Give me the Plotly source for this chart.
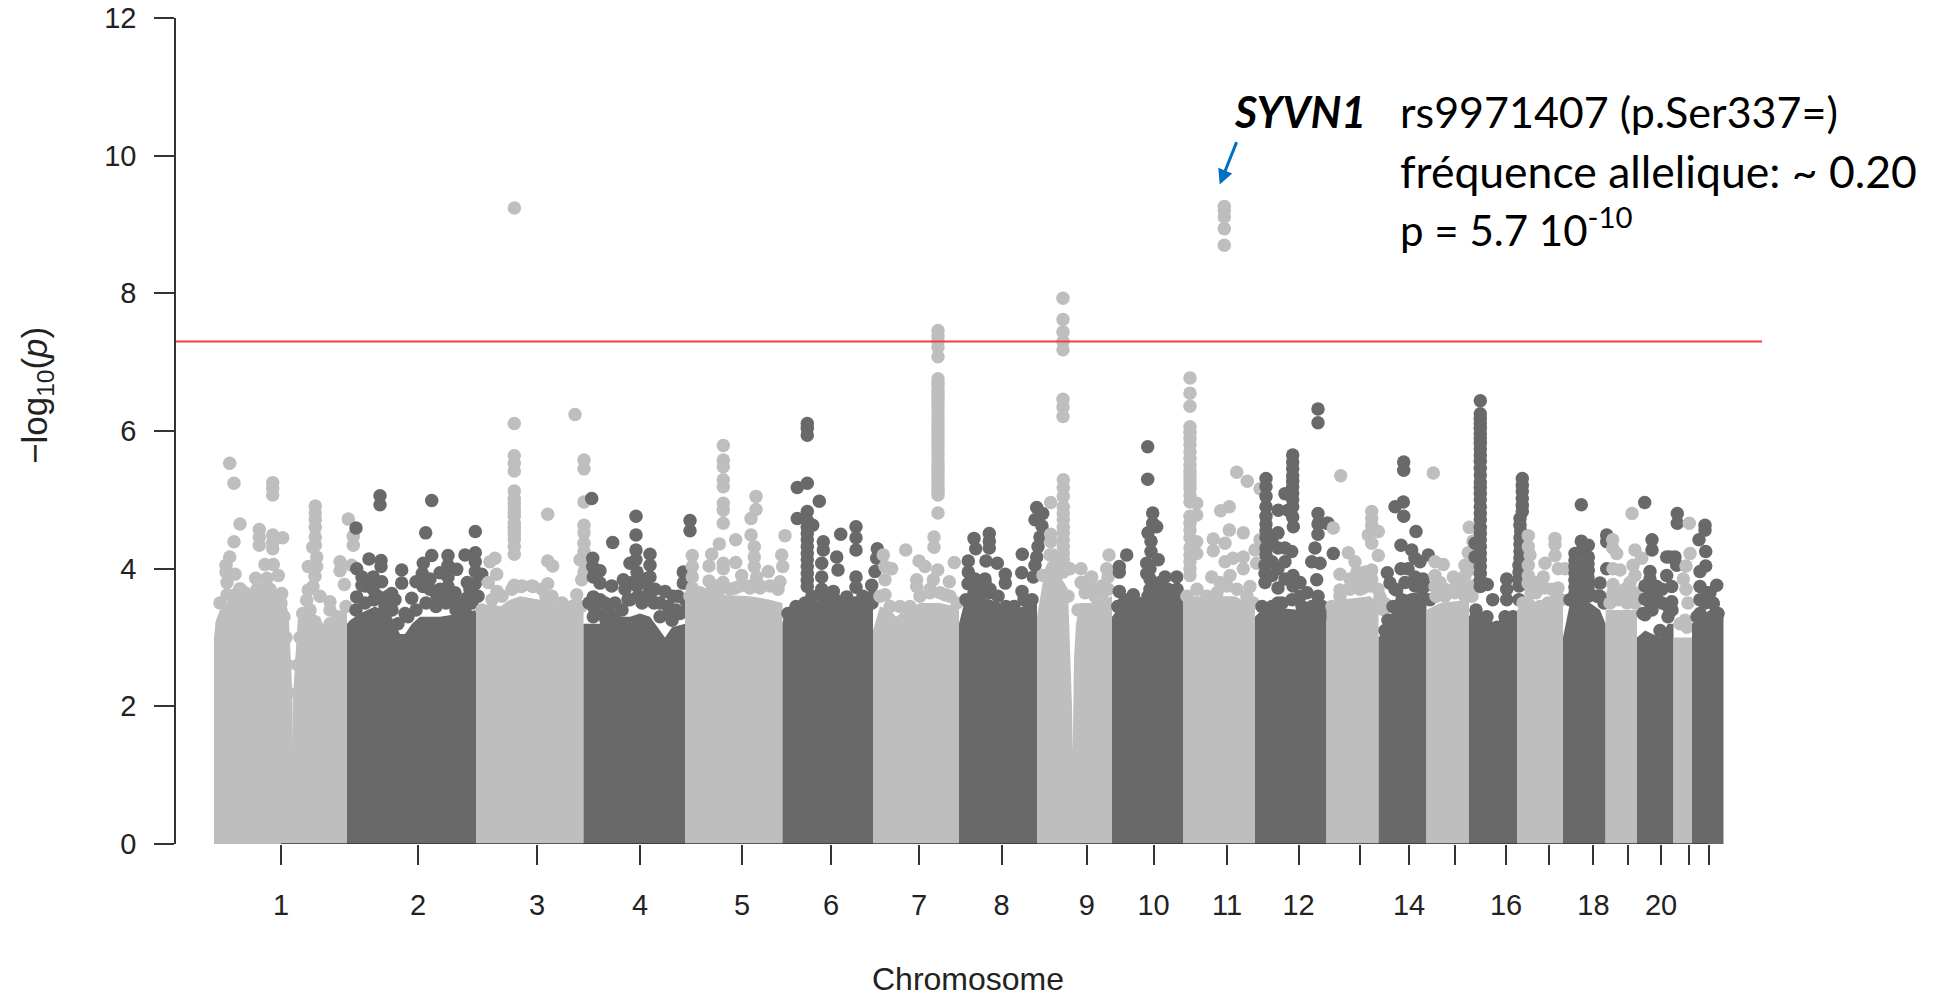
import plotly.graph_objects as go

# Genome position runs in plot units along the x axis; values are -log10(p).
CHR_LABELS = ["1","2","3","4","5","6","7","8","9","10","11","12","","14","","16","","18","","20","",""]
CHR_TICKS = [281,418,537,640,742,831,919,1001.5,1086.7,1153.6,1227,1298.5,1360,1409,1455,1506,1548.5,1593.4,1628,1661,1689,1708.7]
Y_TICKS = [0,2,4,6,8,10,12]
THRESHOLD = 7.3
LIGHT = "#BEBEBE"
DARK = "#696969"

# Dense lower mass of each chromosome: (position, height of the solid mass)
BODY1 = [(214,3.0),(216,3.25),(220,3.4),(230,3.5),(240,3.6),(285,3.55),(288.6,3.35),(291,2.63),(292.5,2.14),(292.9,1.41),(293.1,2.14),(295,2.63),(298,3.3),(305,3.4),(320,3.3),(324,3.16),(335,3.25),(345,3.4),(347,3.4)]
BODY2 = [(347,3.2),(350,3.25),(360,3.35),(375,3.45),(390,3.35),(400,3.05),(405,3.05),(412,3.2),(420,3.3),(440,3.3),(460,3.35),(476,3.4)]
BODY3 = [(476,3.4),(490,3.5),(500,3.45),(510,3.55),(520,3.6),(540,3.55),(555,3.5),(565,3.42),(576,3.38),(583.5,3.4)]
BODY4 = [(583.5,3.2),(600,3.2),(610,3.25),(620,3.3),(630,3.3),(640,3.35),(650,3.3),(660,3.1),(665,3.0),(672,3.15),(685,3.2)]
BODY5 = [(685,3.55),(700,3.6),(720,3.62),(750,3.6),(770,3.55),(782.5,3.5)]
BODY6 = [(782.5,3.2),(785,3.4),(790,3.45),(800,3.5),(840,3.5),(873,3.5)]
BODY7 = [(873,3.1),(880,3.45),(890,3.4),(896,3.3),(905,3.4),(920,3.5),(940,3.5),(955,3.45),(959,3.4)]
BODY8 = [(959,3.2),(965,3.55),(980,3.6),(1000,3.5),(1005,3.4),(1015,3.4),(1030,3.5),(1037,3.5)]
BODY9 = [(1037,3.3),(1045,4.0),(1048,4.1),(1060,3.9),(1068,3.7),(1069,3.3),(1070,2.9),(1071,2.5),(1072,2.0),(1072.7,1.34),(1073,2.0),(1074,2.7),(1076,3.2),(1080,3.5),(1090,3.5),(1100,3.55),(1112,3.6)]
BODY10 = [(1112,3.3),(1120,3.45),(1130,3.4),(1145,3.55),(1165,3.7),(1183,3.7)]
BODY11 = [(1183,3.6),(1200,3.6),(1215,3.6),(1235,3.6),(1255,3.45)]
BODY12 = [(1255,3.3),(1265,3.45),(1300,3.4),(1310,3.45),(1326.5,3.45)]
BODY13 = [(1326.5,3.4),(1340,3.55),(1370,3.6),(1378.6,3.5)]
BODY14 = [(1378.6,3.0),(1385,3.15),(1393,3.4),(1400,3.6),(1415,3.65),(1426.5,3.65)]
BODY15 = [(1426.5,3.4),(1440,3.5),(1469,3.55)]
BODY16 = [(1469,3.3),(1473,3.45),(1490,3.25),(1497,3.2),(1505,3.4),(1517,3.3)]
BODY17 = [(1517,3.4),(1530,3.6),(1540,3.45),(1550,3.45),(1563,3.5)]
BODY18 = [(1563,3.0),(1570,3.5),(1590,3.5),(1600,3.4),(1605.6,3.2)]
BODY19 = [(1605.6,3.4),(1625,3.4),(1637,3.4)]
BODY20 = [(1637,3.0),(1645,3.1),(1660,3.0),(1668,3.2),(1673.5,3.2)]
BODY21 = [(1673.5,3.0),(1692,3.0)]
BODY22 = [(1692,3.2),(1700,3.3),(1715,3.45),(1722,3.3),(1723.5,3.3)]

# Dots along the upper edge of the mass
RIDGE1 = [(222,3.2),(232,3.45),(243,3.5),(253,3.55),(263,3.55),(273,3.55),(281,3.5),(284,3.3),(286,3.0),(287,2.6),(288,2.2),(300,3.0),(298,2.6),(305,3.3),(322,3.1),(330,3.2),(338,3.3),(346,3.45),(245,3.65),(262,3.7),(270,3.7),(280,3.6)]
RIDGE2 = [(356,3.4),(365,3.5),(374,3.55),(383,3.55),(392,3.4),(398,3.2),(408,3.3),(416,3.4),(426,3.5),(436,3.45),(446,3.5),(456,3.4),(465,3.4),(472,3.5),(478,3.6),(365,3.75),(388,3.6),(395,3.55),(430,3.85),(440,3.7),(455,3.65),(470,3.7),(458,3.5),(405,3.35),(385,3.45)]
RIDGE3 = [(482,3.4),(492,3.55),(502,3.6),(512,3.7),(522,3.75),(532,3.75),(542,3.7),(552,3.6),(562,3.5),(572,3.45),(581,3.45),(514.3,4.95),(514.3,4.82),(514.3,4.6),(514.3,4.48),(514.3,4.32)]
RIDGE4 = [(589,3.5),(597,3.35),(606,3.25),(614,3.3),(622,3.4),(630,3.55),(638,3.6),(646,3.6),(654,3.5),(660,3.3),(672,3.25),(680,3.35),(687,3.4),(640,3.8),(645,3.85),(600,3.55),(605,3.5),(632,3.8),(642,3.5),(655,3.7),(660,3.5),(628,3.55),(668,3.45),(685,3.55),(676,3.4),(615,3.5)]
RIDGE5 = [(690,3.6),(700,3.65),(710,3.65),(720,3.7),(730,3.7),(740,3.75),(750,3.75),(760,3.75),(770,3.75),(778,3.7),(723,3.8),(715,3.75)]
RIDGE6 = [(788,3.35),(796,3.45),(805,3.5),(815,3.45),(825,3.5),(835,3.55),(845,3.5),(855,3.5),(865,3.5),(872,3.5),(812,3.6),(823,3.6),(863,3.6),(807.3,4.6),(807.3,4.42),(807.3,4.22),(807.3,4.03),(807.3,3.83)]
RIDGE7 = [(880,3.6),(890,3.45),(900,3.45),(910,3.45),(920,3.6),(930,3.65),(940,3.65),(950,3.6),(957,3.5),(938,6.7),(938,6.58),(938,6.46),(938,6.34),(938,6.21),(938,6.08),(938,5.96),(938,5.84),(938,5.71),(938,5.58),(938,5.46),(938,5.34),(938,5.22),(938,5.12)]
RIDGE8 = [(966,3.55),(974,3.65),(982,3.65),(990,3.65),(998,3.6),(1006,3.45),(1014,3.45),(1024,3.55),(1032,3.55),(975,3.85),(985,3.8),(975,3.8)]
RIDGE9 = [(1043,3.9),(1050,4.2),(1057,3.95),(1063,3.95),(1068,3.6),(1078,3.4),(1085,3.65),(1095,3.6),(1103,3.65),(1108,3.7),(1085,3.8),(1095,3.7),(1090,3.85),(1102,3.75),(1063.3,4.8),(1063.3,4.6),(1063.3,4.42),(1063.3,4.22)]
RIDGE10 = [(1118,3.45),(1128,3.45),(1138,3.5),(1148,3.6),(1158,3.7),(1168,3.7),(1177,3.7),(1150,4.0),(1150,3.85),(1150,3.7),(1160,3.8),(1125,3.55)]
RIDGE11 = [(1187,3.6),(1197,3.7),(1207,3.6),(1217,3.65),(1227,3.75),(1237,3.7),(1247,3.6),(1253,3.5),(1190,5.98),(1190,5.5),(1190,5.35),(1190,5.23),(1190,5.07),(1190,4.66),(1190,4.45),(1190,4.2),(1190,4.0)]
RIDGE12 = [(1262,3.45),(1272,3.45),(1282,3.5),(1292,3.55),(1302,3.45),(1312,3.45),(1322,3.45),(1328,3.35),(1272,4.4),(1285,4.3),(1285,4.1),(1272,4.1),(1272,3.9),(1285,3.85),(1300,3.8),(1265,4.05),(1300,3.6),(1292.7,5.27),(1292.7,5.1),(1292.7,4.9),(1292.7,4.75),(1266,4.65),(1266,4.45),(1266,4.3)]
RIDGE13 = [(1332,3.45),(1340,3.6),(1350,3.7),(1360,3.7),(1370,3.75),(1378,3.7),(1384,3.4),(1360,3.85),(1350,3.85),(1365,3.95)]
RIDGE14 = [(1385,3.1),(1393,3.45),(1402,3.55),(1412,3.55),(1422,3.6),(1430,3.55),(1405,3.8),(1415,3.75),(1425,3.75),(1395,3.7)]
RIDGE15 = [(1436,3.6),(1445,3.6),(1455,3.65),(1465,3.6),(1472,3.6),(1445,3.7),(1460,3.75)]
RIDGE16 = [(1476,3.4),(1487,3.3),(1497,3.15),(1505,3.3),(1513,3.3),(1480.3,6.18),(1480.3,6.04),(1480.3,5.89),(1480.3,5.74),(1480.3,5.56),(1480.3,5.36),(1480.3,5.18),(1480.3,5.0),(1480.3,4.8),(1480.3,4.6),(1480.3,4.42),(1480.3,4.22),(1480.3,4.03),(1480.3,3.83),(1522.3,5.12),(1522.3,4.92),(1520,4.63),(1520,4.45),(1520,4.25),(1519,4.05),(1519,3.85)]
RIDGE17 = [(1523,3.5),(1531,3.65),(1540,3.45),(1548,3.5),(1556,3.55),(1561,3.55),(1535,3.8),(1552,3.7),(1536,3.65)]
RIDGE18 = [(1570,3.55),(1578,3.7),(1588,3.7),(1597,3.6),(1604,3.5),(1581,3.5),(1581,4.25),(1581,4.05),(1581,3.85),(1581,3.7),(1575,4.12),(1588,4.07),(1575,3.93),(1588,3.88),(1575,3.73)]
RIDGE19 = [(1610,3.5),(1618,3.55),(1627,3.5),(1635,3.5),(1625,3.7),(1625,3.55),(1635,3.9),(1635,3.65),(1613,3.65)]
RIDGE20 = [(1643,3.35),(1652,3.4),(1660,3.1),(1668,3.45),(1672,3.4),(1650,3.5),(1650,3.7),(1650,3.85),(1662,3.7),(1662,3.5)]
RIDGE21 = [(1680,3.2),(1687,3.15)]
RIDGE22 = [(1697,3.3),(1705,3.5),(1713,3.5),(1718,3.35),(1710,3.65),(1700,3.35)]

# Dots above the solid mass: (position, -log10 p)
SNP1 = [(229.7,5.53),(234,5.24),(272.7,5.25),(272.7,5.17),(272.7,5.07),(240,4.65),(234,4.39),(259.3,4.57),(259.3,4.46),(259.3,4.34),(272.7,4.49),(272.7,4.38),(272.7,4.29),(282.7,4.45),(229.7,4.17),(226,4.05),(226,3.95),(235,3.92),(227,3.8),(240,3.71),(265,4.06),(273.3,4.06),(278.3,3.9),(255.7,3.86),(267,3.86),(281.7,3.64),(257,3.7),(227,3.62),(235,3.62),(220,3.5),
(315.3,4.91),(315.3,4.81),(315.3,4.71),(315.3,4.6),(315.3,4.46),(315.3,4.34),(312.7,4.31),(316.7,4.17),(308.3,4.03),(316.7,4.03),(315,3.89),(313,3.74),(308.3,3.69),(306.7,3.54),(302.7,3.35),(310,3.4),(320,3.6),(330,3.52),(330,3.4),(348.3,4.72),(353.3,4.47),(353.3,4.34),(340,4.1),(340,3.97),(351.7,4.05),(344.3,3.77)]
SNP2 = [(356,4.59),(380,5.06),(380,4.93),(431.7,4.99),(425.7,4.52),(475.3,4.54),(369,4.14),(381,4.12),(381,4.03),(356.7,4.0),(401.7,3.98),(401.7,3.79),(431.7,4.19),(423.3,4.08),(422.3,3.93),(416,3.81),(423,3.74),(448,4.19),(448,4.05),(456.7,3.99),(440,3.94),(448,3.88),(448,3.74),(448,3.62),(465,4.2),(475.3,4.23),(475.3,4.1),(475.3,3.96),(481.7,3.92),(467.3,3.8),(475.3,3.78),(362,3.88),(362,3.76),(373.3,3.88),(381.7,3.81),(373,3.7),(391.7,3.64),(411.7,3.57),(430,3.7),(356.7,3.59),(466.7,3.57),(378,3.6),(437,3.6)]
SNP3 = [(514.4,9.24),(514.3,6.11),(514.3,5.64),(514.3,5.53),(514.3,5.42),(514.3,5.13),(514.3,5.02),(514.3,4.88),(514.3,4.76),(514.3,4.66),(514.3,4.54),(514.3,4.42),(514.3,4.21),(575,6.24),(584,5.58),(584,5.45),(584,4.97),(547.7,4.79),(584,4.63),(584,4.52),(584,4.37),(584,4.25),(584,4.1),(580,4.13),(547.7,4.11),(552.7,4.04),(547.7,3.78),(495,4.15),(490,4.1),(496.7,3.92),(488.3,3.8),(497,3.67),(514.3,3.76),(533.3,3.74),(521,3.74),(546,3.59),(560,3.49),(570,3.42),(576.7,3.62),(581.7,3.84),(584,3.95)]
SNP4 = [(591.7,5.02),(612.7,4.38),(636,4.76),(636,4.49),(690,4.7),(690,4.55),(592.7,4.15),(592.7,4.03),(600,3.97),(600,3.79),(611.7,3.75),(593.3,3.88),(593.3,3.59),(593.3,3.45),(593.3,3.3),(623.3,3.84),(608.3,3.4),(636,4.27),(636,4.13),(650,4.21),(650,4.05),(650,3.88),(630,4.08),(625,3.7),(665,3.67),(673,3.6),(683.3,3.95),(683.3,3.79),(678,3.6),(671.7,3.35),(650,3.7),(637,3.95),(637,3.75),(651,3.55)]
SNP5 = [(723.3,5.79),(723.3,5.58),(723.3,5.48),(723.3,5.29),(723.3,5.19),(723.3,4.95),(723.3,4.85),(723.3,4.66),(756,5.05),(756,4.86),(751,4.73),(751,4.49),(735.7,4.42),(719.3,4.36),(711.7,4.21),(709,4.04),(723.3,4.08),(723.3,4.0),(735.7,4.09),(709,3.82),(692.3,4.19),(692.3,4.03),(692.3,3.88),(692.3,3.72),(785,4.48),(781.7,4.2),(782.7,4.03),(754.3,4.32),(754.3,4.17),(754.3,4.03),(756.7,3.88),(741.7,3.9),(768.3,3.96),(780,3.81),(750,3.72),(760,3.72),(735,3.72)]
SNP6 = [(807.3,6.11),(807.3,6.04),(807.3,5.94),(807.3,5.24),(797.3,5.18),(819.3,4.98),(807.3,4.83),(797.3,4.73),(812.7,4.63),(807.3,4.7),(807.3,4.51),(807.3,4.32),(807.3,4.13),(807.3,3.93),(807.3,3.74),(823.3,4.39),(823.3,4.27),(821.7,4.08),(821.7,3.88),(821.7,3.7),(836.7,4.17),(838,3.98),(840.7,4.5),(856,4.61),(856,4.45),(856,4.27),(856,3.88),(856,3.73),(877.3,4.29),(876.7,4.15),(833.3,3.67),(846.7,3.59),(871.7,3.76),(875,3.96),(873,3.6)]
SNP7 = [(938,7.46),(938,7.38),(938,7.3),(938,7.22),(938,7.08),(938,6.76),(938,6.65),(938,6.52),(938,6.4),(938,6.28),(938,6.15),(938,6.02),(938,5.9),(938,5.78),(938,5.65),(938,5.52),(938,5.4),(938,5.28),(938,5.17),(938,5.07),(938,4.81),(934,4.46),(934,4.31),(905.7,4.27),(919,4.11),(925,4.03),(937.7,3.98),(954.3,4.09),(916.7,3.84),(916.7,3.74),(933.3,3.84),(949.3,3.81),(883.3,4.2),(885,4.03),(891.7,4.0),(885,3.84),(885,3.62),(930,3.7),(945,3.62)]
SNP8 = [(989.3,4.51),(974,4.44),(975.7,4.29),(989.3,4.4),(989.3,4.3),(968.3,4.11),(968.3,3.95),(986,4.11),(997.3,4.08),(1005.3,3.92),(1005.3,3.79),(1022.3,4.21),(1021.7,3.94),(1033.3,3.88),(1036.7,4.89),(1042.7,4.8),(1035,4.71),(1042,4.62),(1040,4.46),(1038,4.32),(1036.7,4.17),(1035,4.05),(1022,3.67),(968,3.78),(985,3.85),(990,3.7)]
SNP9 = [(1063,7.93),(1063,7.62),(1063,7.44),(1063,7.3),(1063,7.18),(1063,6.46),(1063,6.35),(1063,6.21),(1063.3,5.29),(1063.3,5.18),(1063.3,5.05),(1063.3,4.9),(1063.3,4.71),(1063.3,4.52),(1063.3,4.32),(1063.3,4.13),(1050.7,4.96),(1050.7,4.5),(1050.7,4.39),(1053,4.2),(1055,4.05),(1070,4.0),(1081,4.0),(1091.7,3.88),(1109,4.2),(1106.7,4.0),(1108,3.88),(1081,3.8)]
SNP10 = [(1147.7,5.77),(1147.7,5.3),(1126.7,4.2),(1119.3,4.03),(1119.3,3.95),(1152.7,4.81),(1152.7,4.66),(1156.7,4.61),(1148,4.52),(1151,4.4),(1151,4.25),(1158.3,4.13),(1146.7,4.08),(1146.7,3.93),(1165,3.88),(1176.7,3.88),(1119.3,3.67),(1133.3,3.62),(1118,3.45)]
SNP11 = [(1224.3,9.26),(1224.3,9.2),(1224.3,9.11),(1224.3,8.94),(1224.3,8.7),(1190,6.77),(1190,6.55),(1190,6.36),(1190,6.06),(1190,5.89),(1190,5.8),(1190,5.7),(1190,5.6),(1190,5.41),(1190,5.29),(1190,5.17),(1190,4.97),(1196.7,4.95),(1196.7,4.78),(1190,4.76),(1190,4.56),(1196.7,4.39),(1196.7,4.22),(1190,4.3),(1190,4.1),(1190,3.9),(1236.7,5.4),(1247.3,5.27),(1260,5.16),(1229.3,4.9),(1220.7,4.84),(1229.3,4.56),(1243.3,4.52),(1213.3,4.43),(1225,4.37),(1213.3,4.26),(1233,4.15),(1243.3,4.17),(1243.3,4.0),(1211.7,3.88),(1260,4.42),(1255,4.27),(1256.7,4.08),(1250,3.74),(1225,4.1),(1230,3.9),(1220,3.8)]
SNP12 = [(1318,6.32),(1318,6.12),(1292.7,5.65),(1292.7,5.55),(1292.7,5.45),(1292.7,5.35),(1292.7,5.19),(1292.7,5.0),(1285,5.09),(1266,5.31),(1266,5.19),(1266,5.05),(1266,4.9),(1266,4.76),(1266,4.55),(1266,4.2),(1278.3,4.85),(1288,4.85),(1293.3,4.61),(1278,4.52),(1278,4.3),(1291.7,4.25),(1265,3.93),(1265,3.8),(1293,3.9),(1293,3.75),(1278,4.0),(1278,3.72),(1318,4.8),(1318,4.65),(1318,4.5),(1326.7,4.66),(1315,4.3),(1311.7,4.1),(1320,4.08),(1316.7,3.84),(1307,3.65),(1278,3.5),(1333.3,4.22),(1328,4.66),(1318,3.6)]
SNP13 = [(1340.7,5.35),(1333.3,4.59),(1371.7,4.83),(1371.7,4.73),(1371.7,4.63),(1368.3,4.49),(1378.3,4.54),(1371.7,4.37),(1348.3,4.23),(1378.3,4.19),(1355,4.1),(1357,3.95),(1340,3.92),(1371.7,3.98),(1371.7,3.85),(1340,3.69),(1363,3.72),(1380,3.59),(1385,3.49),(1350,3.72)]
SNP14 = [(1403.7,5.55),(1403.7,5.43),(1403.3,4.97),(1395,4.9),(1403.7,4.76),(1416,4.54),(1401,4.34),(1411.7,4.27),(1415,4.15),(1401,4.0),(1415,3.88),(1428.3,4.2),(1420,4.1),(1387.3,3.94),(1390,3.79),(1396.7,3.69),(1388,3.25),(1408,4.0),(1423,3.85)]
SNP15 = [(1433.3,5.39),(1469.3,4.6),(1468.3,4.23),(1435,4.1),(1443.3,4.06),(1465,4.05),(1453.3,3.88),(1465,3.9),(1435,3.9),(1435,3.74),(1440,3.8),(1473,4.4),(1473,4.0),(1473,3.75),(1455,3.72),(1468,3.72)]
SNP16 = [(1480.3,6.44),(1480.3,6.25),(1480.3,6.11),(1480.3,5.96),(1480.3,5.82),(1480.3,5.65),(1480.3,5.46),(1480.3,5.26),(1480.3,5.09),(1480.3,4.9),(1480.3,4.71),(1480.3,4.51),(1480.3,4.32),(1480.3,4.13),(1480.3,3.93),(1480.3,3.74),(1475,4.37),(1475,4.17),(1487.3,3.77),(1492.7,3.55),(1506.7,3.85),(1506.7,3.7),(1506.7,3.55),(1522.3,5.31),(1522.3,5.21),(1522.3,5.02),(1522.3,4.83),(1520,4.73),(1520.7,4.54),(1520,4.35),(1520,4.15),(1519,3.95),(1519,3.75),(1519,3.55)]
SNP17 = [(1528.3,4.48),(1528.3,4.32),(1530,4.2),(1528.3,4.05),(1528.3,3.9),(1528,3.79),(1555,4.44),(1555,4.35),(1555,4.19),(1545,4.08),(1558.3,4.0),(1565,4.0),(1543.3,3.88),(1545,3.72),(1558,3.72)]
SNP18 = [(1581.3,4.93),(1581.3,4.4),(1588.3,4.34),(1575,4.22),(1588.3,4.17),(1575,4.03),(1588.3,3.98),(1575,3.83),(1588.3,3.78),(1575,3.64),(1588.3,3.6),(1606.7,4.49),(1606.7,4.39),(1606.7,4.0),(1600,3.79),(1600,3.6)]
SNP19 = [(1612.7,4.42),(1612.7,4.3),(1616.7,4.22),(1620,3.98),(1635,4.27),(1641.7,4.15),(1632,4.8),(1633,4.05),(1613,4.0),(1613,3.77),(1630,3.8),(1617,3.6)]
SNP20 = [(1644.7,4.96),(1652,4.42),(1652,4.27),(1650,3.96),(1645,3.75),(1656.7,3.74),(1645,3.56),(1656.7,3.56),(1645,3.33),(1666.7,4.17),(1675,4.17),(1666.7,3.9),(1671.7,3.74),(1671.7,3.52),(1677.3,4.8),(1677.3,4.66),(1670,4.17),(1676.7,4.05),(1668,3.3)]
SNP21 = [(1689.3,4.66),(1690,4.22),(1686,4.04),(1683.3,3.85),(1686,3.7),(1688,3.5),(1685,3.25)]
SNP22 = [(1705,4.63),(1705,4.56),(1699,4.42),(1705.7,4.25),(1705.7,4.04),(1700,3.96),(1716.7,3.76),(1700,3.74),(1713.3,3.49),(1708,3.65),(1700,3.55)]

BODIES = [BODY1,BODY2,BODY3,BODY4,BODY5,BODY6,BODY7,BODY8,BODY9,BODY10,BODY11,BODY12,BODY13,BODY14,BODY15,BODY16,BODY17,BODY18,BODY19,BODY20,BODY21,BODY22]
RIDGES = [RIDGE1,RIDGE2,RIDGE3,RIDGE4,RIDGE5,RIDGE6,RIDGE7,RIDGE8,RIDGE9,RIDGE10,RIDGE11,RIDGE12,RIDGE13,RIDGE14,RIDGE15,RIDGE16,RIDGE17,RIDGE18,RIDGE19,RIDGE20,RIDGE21,RIDGE22]
SNPS = [SNP1,SNP2,SNP3,SNP4,SNP5,SNP6,SNP7,SNP8,SNP9,SNP10,SNP11,SNP12,SNP13,SNP14,SNP15,SNP16,SNP17,SNP18,SNP19,SNP20,SNP21,SNP22]

fig = go.Figure()
for i, (body, ridge, snp) in enumerate(zip(BODIES, RIDGES, SNPS)):
    col = LIGHT if i % 2 == 0 else DARK
    dots = ridge + snp
    fig.add_trace(go.Scatter(x=[p[0] for p in body], y=[p[1] for p in body], mode="lines",
                             line=dict(width=0, color=col), fill="tozeroy", fillcolor=col, hoverinfo="skip"))
    fig.add_trace(go.Scatter(x=[p[0] for p in dots], y=[p[1] for p in dots], mode="markers",
                             marker=dict(size=13.5, color=col, line=dict(width=0)), cliponaxis=False))

fig.add_shape(type="line", xref="x", yref="y", x0=176, x1=1762, y0=THRESHOLD, y1=THRESHOLD,
              line=dict(color="#F93A3A", width=2))
fig.add_shape(type="line", xref="x", yref="y", x0=CHR_TICKS[0], x1=CHR_TICKS[-1], y0=0, y1=0,
              line=dict(color="#333333", width=1.5))

FONT = "Liberation Sans"
NOTE = "Lato"
fig.add_annotation(x=1219.7, y=9.58, ax=17.5, ay=-44, xref="x", yref="y", axref="pixel", ayref="pixel",
                   text="", showarrow=True, arrowcolor="#0070C0", arrowwidth=3, arrowhead=2, arrowsize=1)
def note(x, y, text, size=44):
    fig.add_annotation(xref="paper", yref="paper", x=(x-176)/1604, y=(844-y)/826, text=text, showarrow=False,
                       xanchor="left", yanchor="middle", font=dict(family=NOTE, size=size, color="#000000"))
note(1231.5, 112, "<b><i>SYVN1</i></b>", 43)
note(1397.5, 112, "rs9971407 (p.Ser337=)", 43)
note(1397.5, 170, "fréquence allelique: ~ 0.20", 44.5)
note(1397.5, 227, "p = 5.7 10<sup>-10</sup>", 42)
fig.add_annotation(xref="paper", yref="paper", x=(37-176)/1604, y=(844-396)/826, text="−log<sub>10</sub>(<i>p</i>)",
                   showarrow=False, textangle=-90, xanchor="center", yanchor="middle",
                   font=dict(family=FONT, size=35, color="#222222"))
fig.add_annotation(xref="paper", yref="paper", x=(968-176)/1604, y=(844-979)/826, text="Chromosome",
                   showarrow=False, xanchor="center", yanchor="middle",
                   font=dict(family=FONT, size=32, color="#222222"))

# The page adds 8 px around the figure, so the plot area is placed 8 px up and left.
fig.update_layout(width=1939, height=993, margin=dict(l=168, r=167, t=10, b=157, autoexpand=False),
                  plot_bgcolor="white", paper_bgcolor="white", showlegend=False)
fig.update_xaxes(range=[176,1780], tickmode="array", tickvals=CHR_TICKS, ticktext=CHR_LABELS, ticks="outside",
                 ticklen=20, tickwidth=1.5, tickcolor="#333333", showgrid=False, zeroline=False, showline=False,
                 ticklabelstandoff=15, tickfont=dict(family=FONT, size=29, color="#222222"))
fig.update_yaxes(range=[0,12], tickmode="array", tickvals=Y_TICKS, ticks="outside", ticklen=20, tickwidth=1.5,
                 tickcolor="#333333", showgrid=False, zeroline=False, showline=True, linecolor="#333333", linewidth=1.5,
                 ticklabelstandoff=12, ticklabeloverflow="allow", tickfont=dict(family=FONT, size=29, color="#222222"))
fig.write_html("out.html")
